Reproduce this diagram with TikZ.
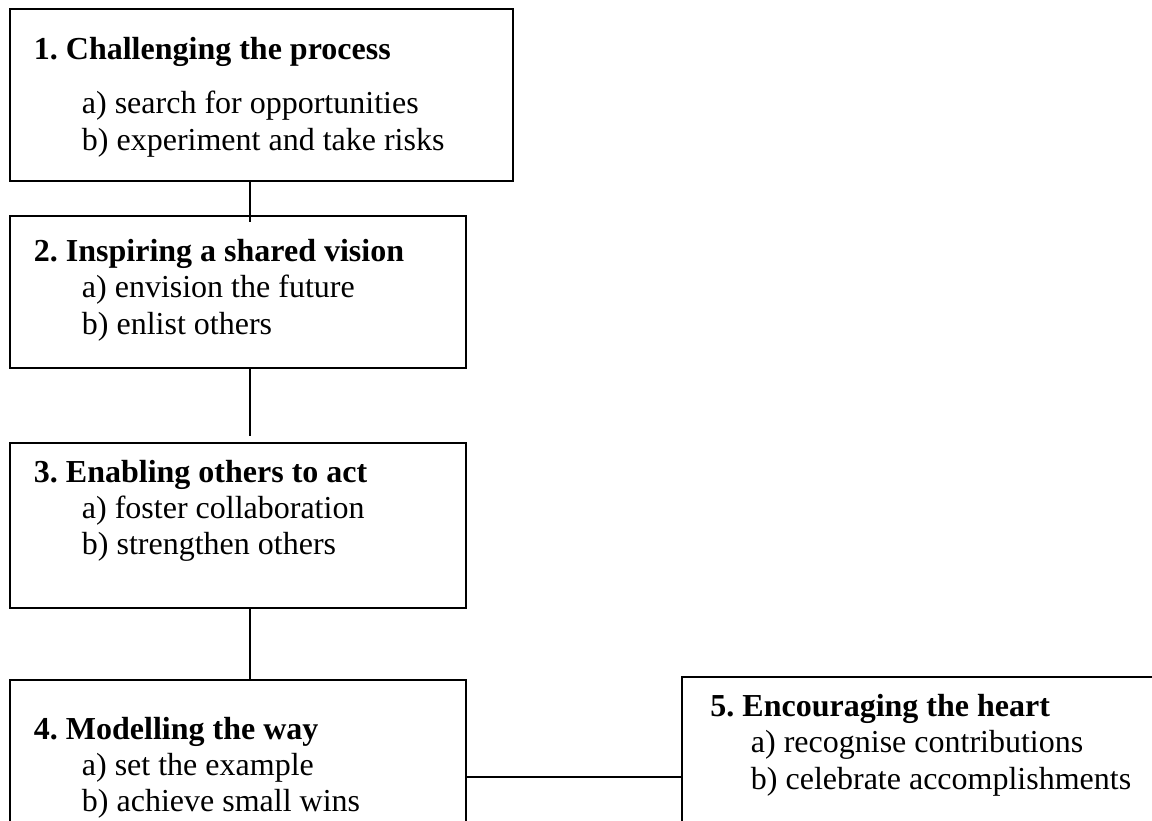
\documentclass[tikz,border=0pt]{standalone}
\usepackage{fontspec}
\setmainfont{Liberation Serif}
\usetikzlibrary{positioning,calc}
\frenchspacing
\newcommand{\pxu}{0.375pt}
\tikzset{
	stagebox/.style={draw, line width=0.7pt, inner sep=0, outer sep=0},
	stagehead/.style={anchor=base west, inner sep=0, font=\fontsize{12}{14}\selectfont\bfseries},
	stageitem/.style={anchor=base west, inner sep=0, font=\fontsize{12}{14}\selectfont}
}

\begin{document}
\begin{tikzpicture}[x=\pxu, y=-\pxu, line width=0.7pt]
				\useasboundingbox (0,0) rectangle (1152,821);
				\clip (0,0) rectangle (1152,821);
				\coordinate (spine) at (250,0);
				
				\node[stagebox, minimum width=503*\pxu, minimum height=172*\pxu] (b1) at (261.5,95) {};
				\node[stagebox, minimum width=456*\pxu, minimum height=152*\pxu] (b2) at (238,292) {};
				\node[stagebox, minimum width=456*\pxu, minimum height=165*\pxu] (b3) at (238,525.5) {};
				\node[stagebox, minimum width=456*\pxu, minimum height=194*\pxu] (b4) at (238,777) {};
				\node[stagebox, minimum width=540*\pxu, minimum height=200*\pxu] (b5) at (952,777) {};
				
				\node[stagehead] (h1) at (33,60) {1. Challenging the process};
				\node[stageitem] (h1a) at (81,114) {a) search for opportunities};
				\node[stageitem] (h1b) at (81,151) {b) experiment and take risks};
				
				\node[stagehead] (h2) at (33,262) {2. Inspiring a shared vision};
				\node[stageitem] (h2a) at (81,298) {a) envision the future};
				\node[stageitem] (h2b) at (81,335) {b) enlist others};
				
				\node[stagehead] (h3) at (33,483) {3. Enabling others to act};
				\node[stageitem] (h3a) at (81,519) {a) foster collaboration};
				\node[stageitem] (h3b) at (81,555) {b) strengthen others};
				
				\node[stagehead] (h4) at (33,740) {4. Modelling the way};
				\node[stageitem] (h4a) at (81,776) {a) set the example};
				\node[stageitem] (h4b) at (81,812) {b) achieve small wins};
				
				\node[stagehead] (h5) at (709.5,717) {5. Encouraging the heart};
				\node[stageitem] (h5a) at (750,753) {a) recognise contributions};
				\node[stageitem] (h5b) at (750,790) {b) celebrate accomplishments};
				
				\draw (b1.south -| spine) -- ([yshift=-2.25pt]b2.north -| spine);
				\draw (b2.south -| spine) -- ([yshift=2.6pt]b3.north -| spine);
				\draw (b3.south -| spine) -- (b4.north -| spine);
				\draw (b4) -- (b5);
			\end{tikzpicture}
\end{document}
